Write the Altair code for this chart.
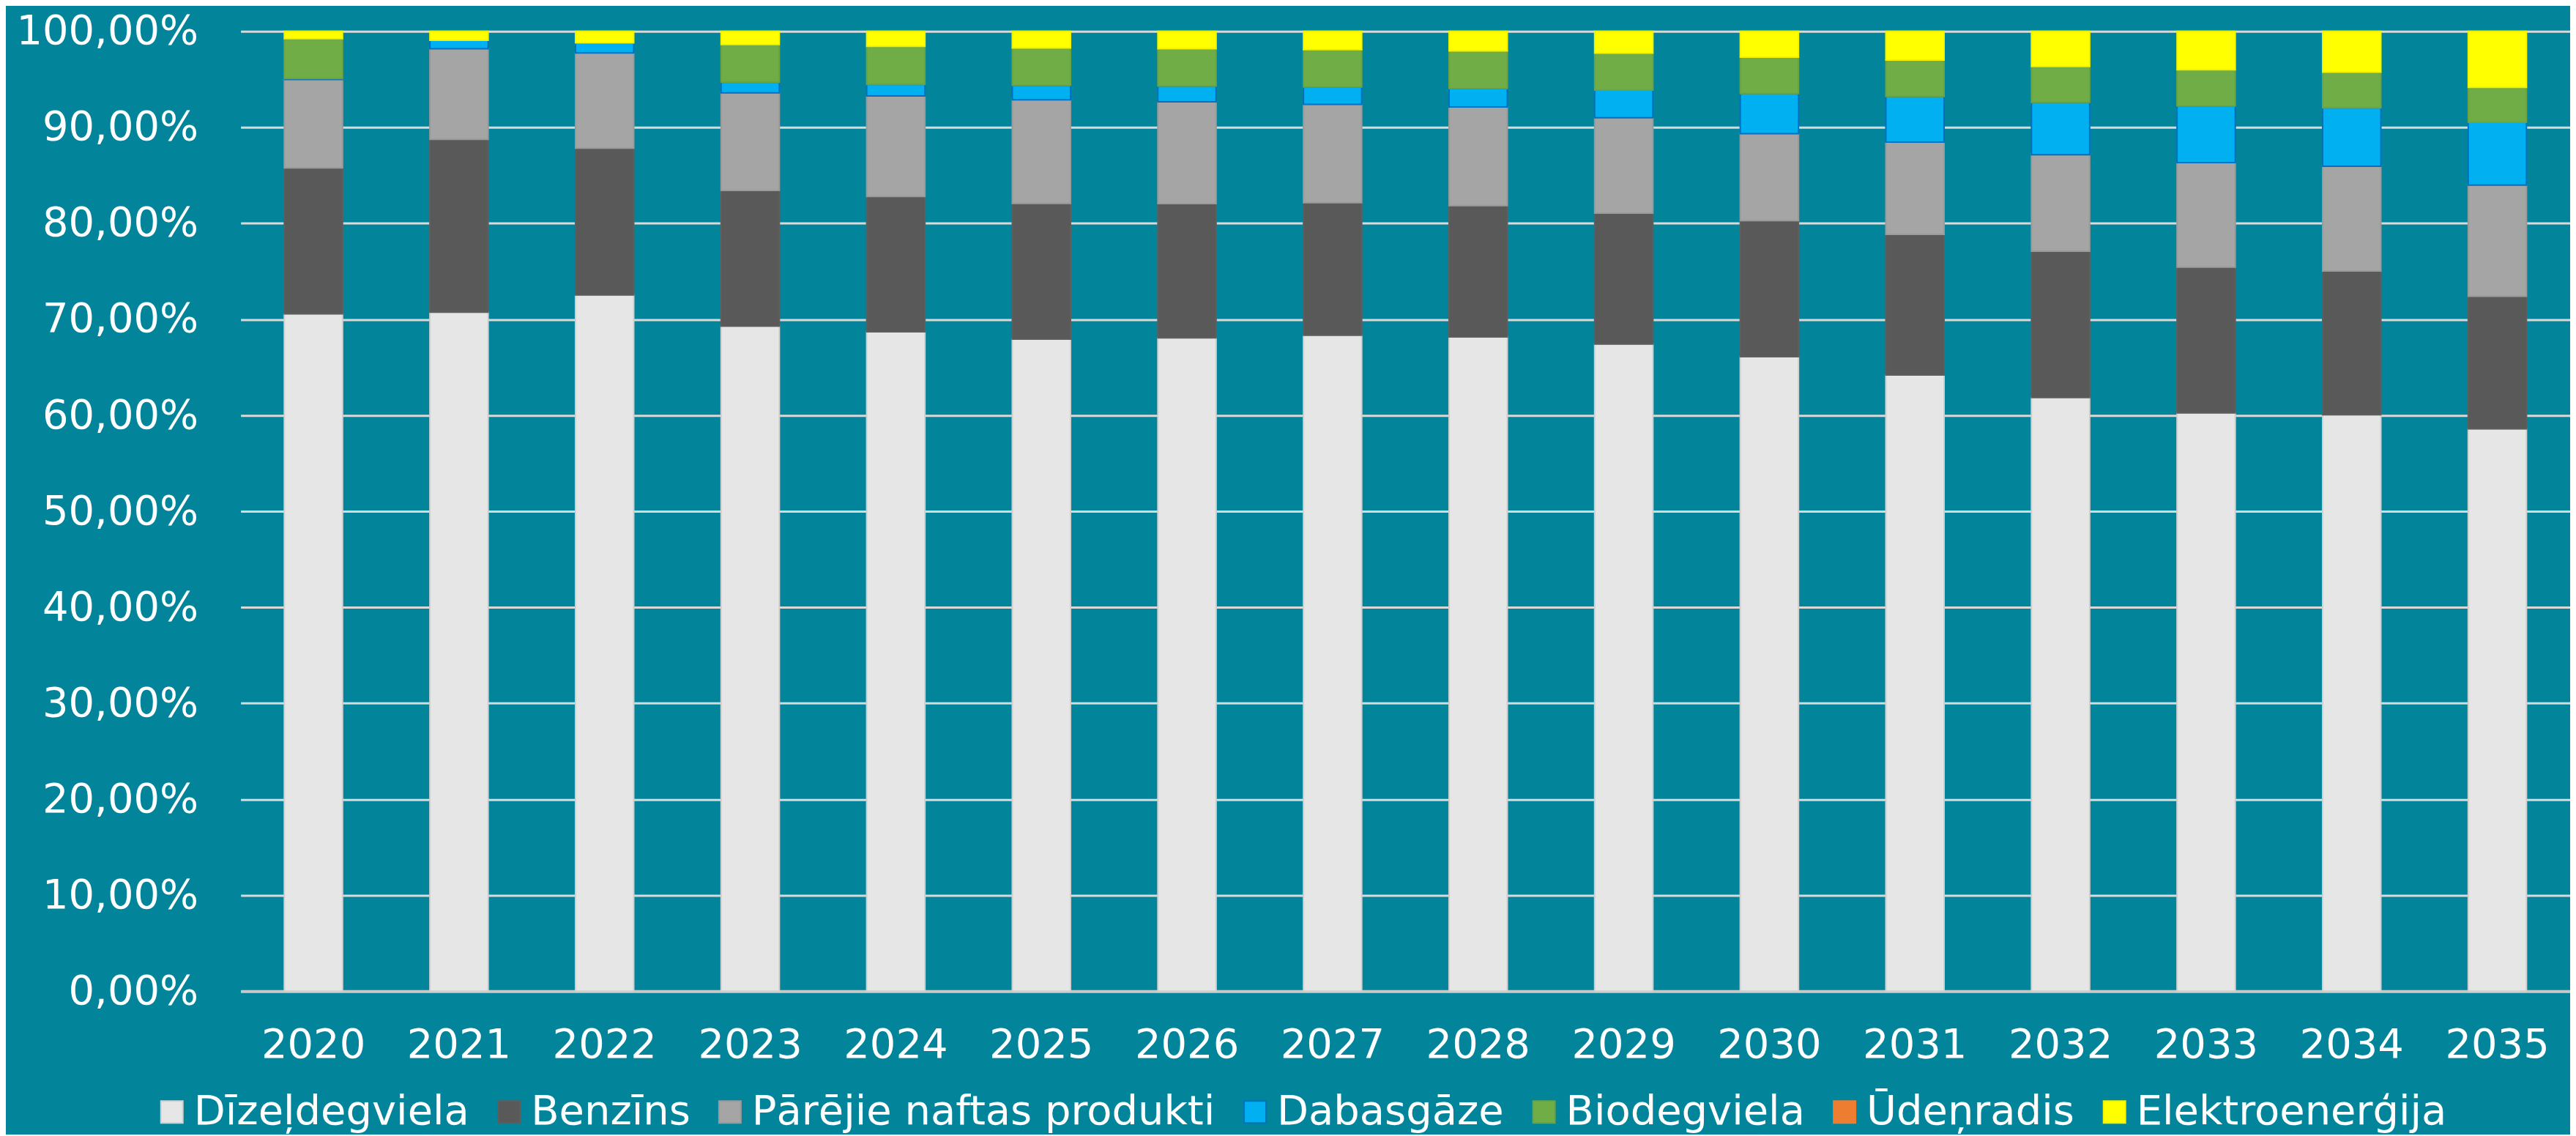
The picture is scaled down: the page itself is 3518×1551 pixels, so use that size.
import altair as alt
import pandas as pd

years = ["2020", "2021", "2022", "2023", "2024", "2025", "2026", "2027",
         "2028", "2029", "2030", "2031", "2032", "2033", "2034", "2035"]

series_names = ["Dīzeļdegviela", "Benzīns", "Pārējie naftas produkti",
                "Dabasgāze", "Biodegviela", "Ūdeņradis", "Elektroenerģija"]

dizel = [70.64, 70.75, 72.54, 69.29, 68.71, 67.93, 68.07, 68.34,
         68.17, 67.42, 66.10, 64.20, 61.86, 60.26, 60.06, 58.60]
benzins = [15.22, 18.00, 15.29, 14.13, 14.09, 14.15, 13.98, 13.81,
           13.68, 13.65, 14.18, 14.66, 15.24, 15.17, 14.97, 13.81]
parejie = [9.22, 9.45, 9.93, 10.17, 10.48, 10.79, 10.62, 10.25,
           10.28, 9.94, 9.07, 9.60, 10.04, 10.89, 10.92, 11.57]
dabasgaze = [0.10, 0.88, 1.05, 1.12, 1.19, 1.50, 1.63, 1.80,
             1.93, 2.88, 4.17, 4.75, 5.46, 5.91, 6.08, 6.55]
biodegviela = [4.17, 0.00, 0.00, 3.93, 3.97, 3.90, 3.90, 3.90,
               3.90, 3.84, 3.80, 3.80, 3.74, 3.77, 3.73, 3.64]
udenradis = [0.00, 0.00, 0.00, 0.00, 0.00, 0.00, 0.00, 0.00,
             0.00, 0.00, 0.00, 0.00, 0.00, 0.00, 0.00, 0.00]
elektro = [0.75, 0.92, 1.19, 1.36, 1.56, 1.73, 1.80, 1.90,
           2.04, 2.27, 2.68, 2.99, 3.66, 4.00, 4.24, 5.83]

fill_colors = ["#E7E6E6", "#595959", "#A5A5A5", "#00B0F0", "#70AD47", "#ED7D31", "#FFFF00"]
stroke_colors = ["#D0D0D0", "#5E5E5E", "#9A9A9A", "#0070C0", "#6AA343", "#ED7D31", "#F2F200"]

all_series = [dizel, benzins, parejie, dabasgaze, biodegviela, udenradis, elektro]
rows = []
for si, (name, vals) in enumerate(zip(series_names, all_series)):
    for y, v in zip(years, vals):
        rows.append({"year": y, "series": name, "order": si, "value": v})
df = pd.DataFrame(rows)

BG = "#02849B"
FONT = "DejaVu Sans"

chart = alt.Chart(df).transform_filter(
    "datum.value > 0"
).mark_bar(strokeWidth=2).encode(
    x=alt.X("year:N", sort=years, title=None,
            scale=alt.Scale(paddingInner=0.6, paddingOuter=0.3),
            axis=alt.Axis(labelAngle=0, labelFontSize=56, labelColor="white",
                          labelFont=FONT, labelPadding=46, ticks=False,
                          domain=True, domainColor="#C8C8C8", domainWidth=4,
                          grid=False)),
    y=alt.Y("value:Q", stack="normalize", title=None,
            scale=alt.Scale(domain=[0, 1], nice=False),
            axis=alt.Axis(values=[0, 0.1, 0.2, 0.3, 0.4, 0.5, 0.6, 0.7, 0.8, 0.9, 1.0],
                          labelExpr="replace(format(datum.value*100, '.2f'), '.', ',') + '%'",
                          labelFontSize=56, labelColor="white", labelFont=FONT,
                          labelPadding=58, labelLimit=600, ticks=False, domain=False,
                          grid=True, gridColor="#D9D9D9", gridWidth=3)),
    fill=alt.Fill("series:N", title=None,
                  scale=alt.Scale(domain=series_names, range=fill_colors),
                  legend=alt.Legend(orient="none", legendX=-122, legendY=1449,
                                    direction="horizontal", symbolType="square",
                                    symbolSize=900, symbolStrokeWidth=2,
                                    labelFontSize=56, labelColor="white",
                                    labelFont=FONT, labelOffset=2,
                                    columnPadding=26, labelLimit=2000,
                                    padding=0)),
    stroke=alt.Stroke("series:N", title=None,
                      scale=alt.Scale(domain=series_names, range=stroke_colors)),
    order=alt.Order("order:Q", sort="ascending"),
).properties(
    width=3185,
    height=1312,
    background=BG,
    padding={"left": 321, "top": 34, "right": 0, "bottom": 195},
    autosize=alt.AutoSizeParams(type="none"),
).configure_view(
    stroke=None, fill=BG
)

chart.save("out.html", embed_options={"renderer": "svg", "actions": False})
